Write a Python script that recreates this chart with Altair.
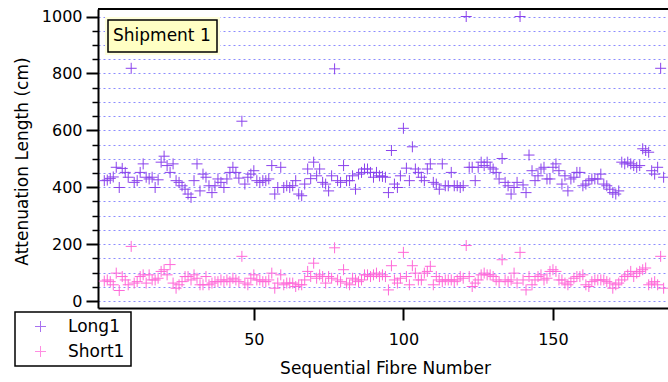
import altair as alt
import pandas as pd

# ---------------- data ----------------
fibre = list(range(188))

long1 = [
    423, 425, 431, 436, 470, 399, 466, 452, 435, 818,
    417, 423, 452, 482, 435, 429, 435, 399, 426, 488,
    509, 476, 452, 482, 423, 417, 405, 393, 376, 364,
    423, 482, 387, 446, 435, 405, 381, 405, 429, 417,
    399, 429, 452, 470, 452, 432, 632, 411, 435, 446,
    458, 423, 417, 423, 423, 429, 476, 376, 399, 470,
    399, 405, 399, 405, 423, 376, 370, 411, 464, 430,
    488, 440, 464, 417, 411, 387, 440, 816, 423, 417,
    476, 423, 423, 440, 393, 446, 452, 464, 464, 452,
    435, 452, 440, 438, 435, 381, 529, 411, 399, 440,
    607, 467, 423, 542, 464, 452, 435, 423, 464, 482,
    417, 411, 393, 482, 405, 405, 452, 405, 405, 399,
    405, 1000, 470, 470, 423, 470, 488, 476, 488, 470,
    464, 452, 429, 501, 417, 405, 376, 399, 417, 1000,
    408, 381, 513, 458, 423, 440, 464, 470, 429, 429,
    470, 482, 458, 411, 440, 387, 429, 435, 452, 452,
    405, 411, 423, 429, 429, 429, 446, 411, 405, 393,
    381, 376, 387, 488, 482, 488, 482, 476, 470, 476,
    535, 529, 523, 458, 446, 470, 818, 435,
]

short1 = [
    70, 74, 68, 57, 98, 37, 86, 74, 57, 192,
    63, 68, 86, 92, 63, 92, 74, 74, 80, 104,
    110, 92, 128, 63, 45, 57, 68, 86, 86, 74,
    92, 80, 57, 57, 86, 57, 63, 68, 68, 74,
    68, 74, 68, 80, 74, 68, 157, 63, 57, 80,
    92, 74, 74, 68, 68, 74, 98, 45, 63, 92,
    57, 63, 63, 63, 51, 57, 57, 74, 104, 86,
    133, 80, 92, 86, 63, 86, 80, 187, 74, 68,
    110, 63, 57, 80, 74, 68, 74, 92, 92, 86,
    92, 98, 86, 92, 86, 39, 124, 74, 63, 80,
    171, 86, 57, 124, 98, 74, 74, 98, 104, 122,
    57, 86, 74, 68, 74, 74, 74, 68, 74, 86,
    80, 195, 86, 51, 63, 74, 92, 98, 92, 92,
    86, 74, 68, 145, 74, 68, 74, 98, 63, 171,
    74, 39, 86, 57, 74, 86, 92, 74, 80, 104,
    110, 104, 74, 74, 63, 57, 68, 80, 86, 86,
    92, 57, 51, 68, 74, 74, 74, 74, 68, 63,
    45, 57, 63, 74, 86, 92, 104, 86, 98, 104,
    110, 116, 57, 63, 68, 57, 157, 45,
]

series_names = ["Long1", "Short1"]
series_colors = ["#8a42ec", "#ff68d8"]
x_tick_values = [50, 100, 150]
y_tick_values = list(range(0, 1001, 50))
annotation_text = ["Shipment 1"]
x_title = "Sequential Fibre Number"
y_title = "Attenuation Length (cm)"

FONT = "DejaVu Sans"
CROSS = "M-1,0L1,0M0,-1L0,1"
W, H = 570, 299

df = pd.DataFrame({
    "fibre": fibre + fibre,
    "value": long1 + short1,
    "series": [series_names[0]] * len(long1) + [series_names[1]] * len(short1),
})

points = alt.Chart(df).mark_point(
    shape=CROSS, filled=False, size=121, strokeWidth=1, opacity=1
).encode(
    x=alt.X(
        "fibre:Q",
        scale=alt.Scale(domain=[-2.1, 188.46], nice=False, zero=False),
        axis=alt.Axis(
            values=x_tick_values, format="d", title=x_title,
            titleFont=FONT, titleFontSize=17, titleFontWeight="normal", titleColor="black",
            titleX=287, titleY=60, titleBaseline="middle",
            labelFont=FONT, labelFontSize=16, labelColor="black", labelPadding=11,
            labelFlush=False, labelOverlap=False,
            tickSize=12, tickWidth=2, tickColor="black",
            domainColor="black", domainWidth=2, grid=False,
        ),
    ),
    y=alt.Y(
        "value:Q",
        scale=alt.Scale(domain=[-24.6, 1026.4], nice=False, zero=False),
        axis=alt.Axis(
            values=y_tick_values, format="d",
            labelExpr="datum.value % 200 === 0 ? datum.label : ''",
            title=y_title,
            titleFont=FONT, titleFontSize=17, titleFontWeight="normal", titleColor="black",
            titleX=-76, titleY=152, titleAngle=-90, titleAlign="center", titleBaseline="middle",
            labelFont=FONT, labelFontSize=16, labelColor="black", labelPadding=4,
            labelFlush=False, labelOverlap=False,
            tickSize={"condition": {"test": "datum.value % 200 === 0", "value": 12}, "value": 6},
            tickWidth={"condition": {"test": "datum.value % 200 === 0", "value": 2}, "value": 1.5},
            tickColor="black",
            domainColor="black", domainWidth=2,
            grid=True, gridColor="#8c8cff", gridDash=[2, 3], gridWidth=1,
        ),
    ),
    color=alt.Color(
        "series:N",
        scale=alt.Scale(domain=series_names, range=series_colors),
        legend=alt.Legend(
            title=None, orient="none", legendX=-83, legendY=303, direction="vertical",
            fillColor="white", strokeColor="black", padding=6, rowPadding=7,
            symbolType=CROSS, symbolSize=121, symbolStrokeWidth=1, symbolOpacity=0.75,
            symbolOffset=11, labelOffset=19,
            labelFont=FONT, labelFontSize=17, labelColor="black",
        ),
    ),
)

one = pd.DataFrame({"label": annotation_text})

halo = alt.Chart(one).mark_rect(fill="#ffffdc").encode(
    x=alt.value(7), x2=alt.value(122), y=alt.value(8), y2=alt.value(46)
)
box = alt.Chart(one).mark_rect(fill="#ffffc4", stroke="black", strokeWidth=1.5).encode(
    x=alt.value(10), x2=alt.value(119), y=alt.value(11), y2=alt.value(43)
)
label = alt.Chart(one).mark_text(
    align="left", baseline="middle", font=FONT, fontSize=17, color="black"
).encode(x=alt.value(15), y=alt.value(27), text="label:N")

top_rule = alt.Chart(one).mark_rule(color="black", strokeWidth=2).encode(
    x=alt.value(0), x2=alt.value(W), y=alt.value(0)
)

chart = alt.layer(points, halo, box, label, top_rule).properties(
    width=W, height=H,
    padding={"left": 98, "top": 9, "right": 0, "bottom": 74},
    autosize=alt.AutoSizeParams(type="none"),
    background="white",
).configure_view(stroke=None).configure_legend(strokeWidth=1.5)

chart.save("out.html", embed_options={"renderer": "svg", "actions": False})
